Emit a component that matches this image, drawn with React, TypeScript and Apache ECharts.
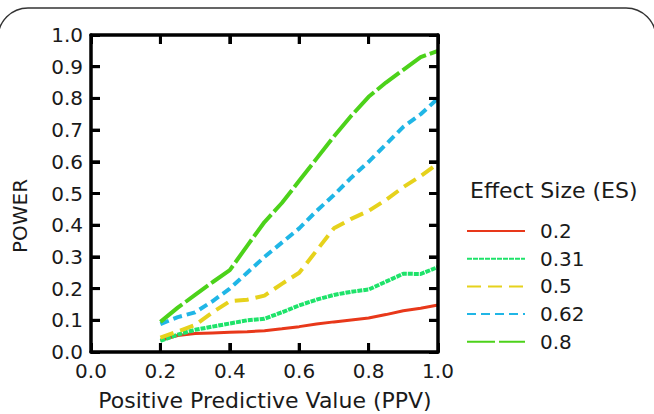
import React, { useEffect, useRef } from "react";
import * as echarts from "echarts";

const xValues = [0.2, 0.25, 0.3, 0.35, 0.4, 0.45, 0.5, 0.55, 0.6, 0.65, 0.7, 0.75, 0.8, 0.85, 0.9, 0.95, 1.0];
const es020 = [0.037, 0.052, 0.058, 0.06, 0.062, 0.064, 0.067, 0.073, 0.08, 0.088, 0.095, 0.101, 0.107, 0.118, 0.13, 0.138, 0.148];
const es031 = [0.035, 0.055, 0.07, 0.08, 0.09, 0.1, 0.105, 0.125, 0.147, 0.165, 0.18, 0.19, 0.197, 0.222, 0.247, 0.246, 0.268];
const es050 = [0.045, 0.065, 0.085, 0.125, 0.16, 0.165, 0.178, 0.215, 0.25, 0.32, 0.39, 0.42, 0.445, 0.48, 0.52, 0.555, 0.595];
const es062 = [0.088, 0.11, 0.125, 0.16, 0.2, 0.25, 0.3, 0.345, 0.39, 0.445, 0.495, 0.55, 0.6, 0.655, 0.71, 0.75, 0.8];
const es080 = [0.095, 0.14, 0.18, 0.22, 0.258, 0.335, 0.41, 0.47, 0.54, 0.61, 0.68, 0.745, 0.805, 0.85, 0.89, 0.93, 0.95];

const seriesNames = ["0.2", "0.31", "0.5", "0.62", "0.8"];
const seriesData = [es020, es031, es050, es062, es080];
const seriesColors = ["#e8381a", "#1ee36a", "#e6d21c", "#20b6e6", "#4cd21a"];
const seriesDash: any[] = ["solid", [5, 1], [14, 7], [9, 5], [28, 4]];
const seriesWidth = [3, 4, 4, 4, 4];

const xTickValues = [0.2, 0.4, 0.6, 0.8];
const yTickValues = [0.1, 0.2, 0.3, 0.4, 0.5, 0.6, 0.7, 0.8, 0.9];

const xTitle = "Positive Predictive Value (PPV)";
const yTitle = "POWER";
const legendTitle = "Effect Size (ES)";

const FONT = "DejaVu Sans, Verdana, sans-serif";
const TICK_LEN = 9;

const mkLine = () => ({ show: true, onZero: false, lineStyle: { color: "#000", width: 3.5 } });
const mkTick = () => ({ show: true, inside: true, length: TICK_LEN, lineStyle: { color: "#000", width: 3 } });
const mkLabel = (margin: number) => ({
  show: true,
  color: "#1a1a1a",
  fontSize: 20,
  fontFamily: FONT,
  margin,
  formatter: (v: number) => v.toFixed(1),
});

export default function App() {
  const ref = useRef<HTMLDivElement>(null);
  useEffect(() => {
    if (!ref.current) return;
    const chart = echarts.init(ref.current, null, { renderer: "svg" });
    const baseGraphic: any[] = [
      {
        type: "rect",
        z: -1,
        shape: { x: -2, y: 8, width: 658, height: 520, r: 30 },
        style: { fill: "transparent", stroke: "#333", lineWidth: 1.5 },
        silent: true,
      },
      {
        type: "text",
        x: 20, y: 216, rotation: Math.PI / 2,
        style: { text: yTitle, fill: "#1a1a1a", fontSize: 20, fontFamily: FONT, align: "center", verticalAlign: "middle" },
      },
      {
        type: "text",
        x: 265, y: 400,
        style: { text: xTitle, fill: "#1a1a1a", fontSize: 22, fontFamily: FONT, align: "center", verticalAlign: "middle" },
      },
      {
        type: "text",
        x: 470, y: 190,
        style: { text: legendTitle, fill: "#1a1a1a", fontSize: 22, fontFamily: FONT, align: "left", verticalAlign: "middle" },
      },
    ];
    chart.setOption({
      animation: false,
      backgroundColor: "#ffffff",
      grid: { left: 91, right: 216, top: 35, bottom: 62 },
      xAxis: [
        {
          type: "value", min: 0, max: 1, interval: 0.2, position: "bottom", z: 10,
          axisLine: mkLine(), axisTick: mkTick(), splitLine: { show: false },
          axisLabel: mkLabel(9),
        },
        {
          type: "value", min: 0, max: 1, interval: 0.2, position: "top", z: 10,
          axisLine: mkLine(), axisTick: mkTick(), splitLine: { show: false }, axisLabel: { show: false },
        },
      ],
      yAxis: [
        {
          type: "value", min: 0, max: 1, interval: 0.1, position: "left", z: 10,
          axisLine: mkLine(), axisTick: mkTick(), splitLine: { show: false },
          axisLabel: mkLabel(8),
        },
        {
          type: "value", min: 0, max: 1, interval: 0.1, position: "right", z: 10,
          axisLine: mkLine(), axisTick: mkTick(), splitLine: { show: false }, axisLabel: { show: false },
        },
      ],
      legend: {
        orient: "vertical",
        left: 461,
        top: 216,
        itemWidth: 58,
        itemHeight: 14,
        itemGap: 7.7,
        data: seriesNames,
        itemStyle: { opacity: 0 },
        textStyle: { color: "#1a1a1a", fontSize: 20, lineHeight: 20, fontFamily: FONT, padding: [0, 0, 0, 10] },
      },
      series: seriesNames.map((name, i) => ({
        name,
        type: "line",
        symbol: "none",
        xAxisIndex: 0,
        yAxisIndex: 0,
        data: xValues.map((x, j) => [x, seriesData[i][j]]),
        lineStyle: { color: seriesColors[i], width: seriesWidth[i], type: seriesDash[i] },
        itemStyle: { color: seriesColors[i] },
      })),
      graphic: baseGraphic,
    });

    // Inward tick marks on all four sides, positioned through the chart's own scales.
    const px = (v: number) => chart.convertToPixel({ xAxisIndex: 0 }, v) as number;
    const py = (v: number) => chart.convertToPixel({ yAxisIndex: 0 }, v) as number;
    const left = px(0), right = px(1), top = py(1), bottom = py(0);
    const tickStyle = { stroke: "#000", lineWidth: 3 };
    const ticks: any[] = [];
    xTickValues.forEach((v) => {
      const x = px(v);
      ticks.push({ type: "line", z: 20, silent: true, shape: { x1: x, y1: bottom, x2: x, y2: bottom - TICK_LEN }, style: tickStyle });
      ticks.push({ type: "line", z: 20, silent: true, shape: { x1: x, y1: top, x2: x, y2: top + TICK_LEN }, style: tickStyle });
    });
    yTickValues.forEach((v) => {
      const y = py(v);
      ticks.push({ type: "line", z: 20, silent: true, shape: { x1: left, y1: y, x2: left + TICK_LEN, y2: y }, style: tickStyle });
      ticks.push({ type: "line", z: 20, silent: true, shape: { x1: right, y1: y, x2: right - TICK_LEN, y2: y }, style: tickStyle });
    });
    chart.setOption({ graphic: [...baseGraphic, ...ticks] });

    return () => chart.dispose();
  }, []);
  return (
    <div
      ref={ref}
      style={{ position: "fixed", left: 0, top: 0, width: 654, height: 414, background: "#fff" }}
    />
  );
}
